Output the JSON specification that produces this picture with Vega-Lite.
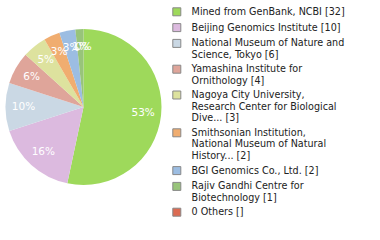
{
  "$schema": "https://vega.github.io/schema/vega-lite/v6.json",
  "width": 167,
  "height": 214,
  "autosize": {"type": "none"},
  "padding": {"left": 0, "top": 0, "right": 213, "bottom": 26},
  "background": "white",
  "config": {"view": {"stroke": null}},
  "data": {
    "values": [
      {"rank": 1, "label": "Mined from GenBank, NCBI [32]", "count": 32, "pct": "53%"},
      {"rank": 2, "label": "Beijing Genomics Institute [10]", "count": 10, "pct": "16%"},
      {"rank": 3, "label": "National Museum of Nature and|Science, Tokyo [6]", "count": 6, "pct": "10%"},
      {"rank": 4, "label": "Yamashina Institute for|Ornithology [4]", "count": 4, "pct": "6%"},
      {"rank": 5, "label": "Nagoya City University,|Research Center for Biological|Dive... [3]", "count": 3, "pct": "5%"},
      {"rank": 6, "label": "Smithsonian Institution,|National Museum of Natural|History... [2]", "count": 2, "pct": "3%"},
      {"rank": 7, "label": "BGI Genomics Co., Ltd. [2]", "count": 2, "pct": "3%"},
      {"rank": 8, "label": "Rajiv Gandhi Centre for|Biotechnology [1]", "count": 1, "pct": "1%"},
      {"rank": 9, "label": "0 Others []", "count": 0, "pct": "0%"}
    ]
  },
  "encoding": {
    "theta": {"field": "count", "type": "quantitative", "stack": true},
    "order": {"field": "rank", "type": "quantitative"}
  },
  "layer": [
    {
      "mark": {"type": "arc", "outerRadius": 78},
      "encoding": {
        "color": {
          "field": "label",
          "type": "nominal",
          "sort": null,
          "scale": {
            "domain": [
              "Mined from GenBank, NCBI [32]",
              "Beijing Genomics Institute [10]",
              "National Museum of Nature and|Science, Tokyo [6]",
              "Yamashina Institute for|Ornithology [4]",
              "Nagoya City University,|Research Center for Biological|Dive... [3]",
              "Smithsonian Institution,|National Museum of Natural|History... [2]",
              "BGI Genomics Co., Ltd. [2]",
              "Rajiv Gandhi Centre for|Biotechnology [1]",
              "0 Others []"
            ],
            "range": ["#9ed95b", "#dcbadf", "#cad8e4", "#dfa59a", "#dde29e", "#f0ad70", "#9cbde2", "#98c47a", "#dc6b52"]
          },
          "legend": {
            "orient": "none",
            "legendX": 172,
            "legendY": 7,
            "title": null,
            "padding": 0,
            "symbolType": "square",
            "symbolSize": 64,
            "symbolStrokeColor": "#888888",
            "symbolStrokeWidth": 1,
            "symbolOpacity": 1,
            "labelFont": "DejaVu Sans",
            "labelFontSize": 9.6,
            "labelColor": "#222222",
            "labelOffset": 10,
            "rowPadding": 2.8,
            "labelLimit": 250,
            "labelExpr": "split(datum.label, '|')"
          }
        }
      }
    },
    {
      "mark": {"type": "text", "radius": 60, "fill": "white", "font": "DejaVu Sans", "fontSize": 10.5},
      "encoding": {
        "detail": {"field": "label", "type": "nominal", "sort": null},
        "text": {"field": "pct", "type": "nominal"}
      }
    }
  ]
}
